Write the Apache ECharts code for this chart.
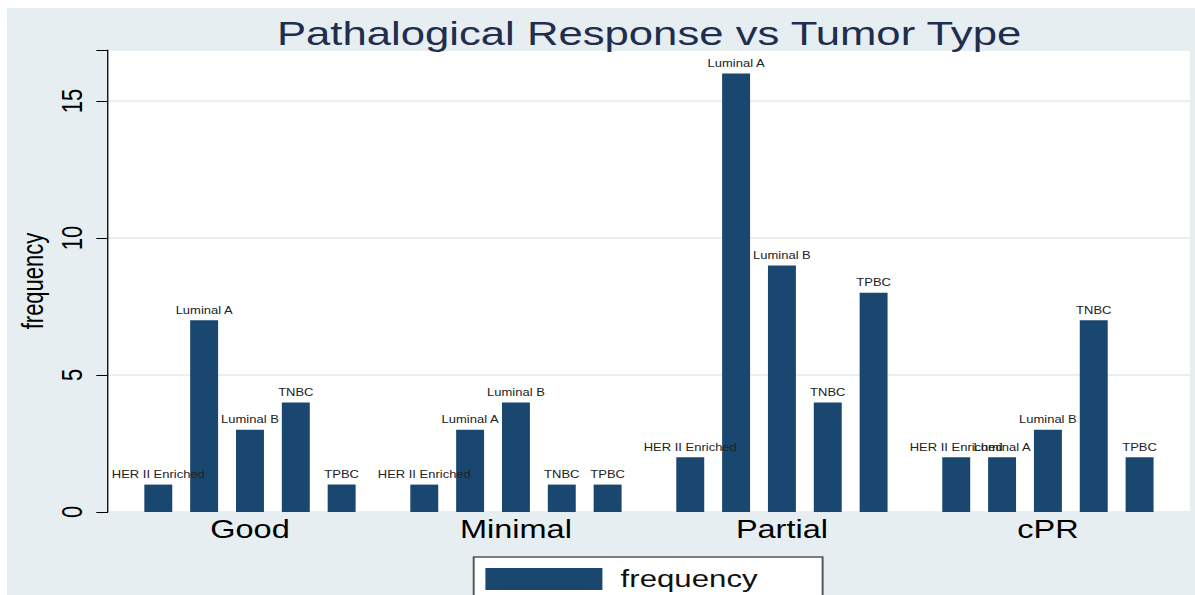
<!DOCTYPE html>
<html>
<head>
<meta charset="utf-8">
<title>Pathalogical Response vs Tumor Type</title>
<script src="https://cdn.jsdelivr.net/npm/echarts@6/dist/echarts.min.js"></script>
<style>
  html, body { margin: 0; padding: 0; background: #ffffff; }
  /* the original graph is stretched sideways, so draw narrow and scale it */
  #chart {
    position: absolute; left: 7px; top: 8px;
    width: 914px; height: 587px;
    transform: scaleX(1.3); transform-origin: 0 0;
  }
</style>
</head>
<body>
<div id="chart"></div>
<script>
  'use strict';

  // response groups on the x axis
  var groups = ['Good', 'Minimal', 'Partial', 'cPR'];
  // tumor types, one bar each inside a group
  var tumorTypes = ['HER II Enriched', 'Luminal A', 'Luminal B', 'TNBC', 'TPBC'];
  // frequency per group, one array per tumor type
  var herII = [1, 1, 2, 2];
  var luminalA = [7, 3, 16, 2];
  var luminalB = [3, 4, 9, 3];
  var tnbc = [4, 1, 4, 7];
  var tpbc = [1, 1, 8, 2];
  var yTicks = [0, 5, 10, 15];

  var typeValues = [herII, luminalA, luminalB, tnbc, tpbc];
  var yMax = 16.86;
  var font = '"Liberation Sans", Arial, Helvetica, sans-serif';
  var barColor = '#1a476f';

  var chart = echarts.init(document.getElementById('chart'), null, {renderer: 'svg'});

  var series = tumorTypes.map(function (name, i){
    return {
      name: 'frequency',
      type: 'bar',
      xAxisIndex: 1,
      yAxisIndex: 1,
      barWidth: 21.5,
      barGap: '64%',
      itemStyle: {color: barColor},
      label: {
        show: true,
        position: 'top',
        distance: 5,
        formatter: name,
        fontFamily: font,
        fontSize: 10,
        color: '#222222'
      },
      data: typeValues[i]
    };
  });

  var option = {
    backgroundColor: '#e6eef1',
    animation: false,
    title: {
      text: 'Pathalogical Response vs Tumor Type',
      left: 202.6,
      top: 3,
      textStyle: {fontFamily: font, fontSize: 33.6, fontWeight: 'normal', color: '#1f2d4e'}
    },
    legend: {
      data: ['frequency'],
      left: 359,
      top: 549,
      orient: 'horizontal',
      itemWidth: 90,
      itemHeight: 22,
      icon: 'rect',
      padding: [10, 50, 20, 9],
      backgroundColor: '#ffffff',
      borderColor: '#555555',
      borderWidth: 1.5,
      borderRadius: 0,
      selectedMode: false,
      textStyle: {fontFamily: font, fontSize: 24, color: '#111111', padding: [0, 0, 0, 9]}
    },
    grid: [
      {
        // white plot region with the y axis
        left: 77.7, right: 4, top: 42, bottom: 83,
        show: true, backgroundColor: '#ffffff', borderWidth: 0
      },
      {
        // inner region where the groups sit
        left: 84.6, right: 11, top: 42, bottom: 83
      }
    ],
    xAxis: [
      {gridIndex: 0, type: 'value', show: false},
      {
        gridIndex: 1,
        type: 'category',
        data: groups,
        axisLine: {show: false},
        axisTick: {show: false},
        axisLabel: {margin: 5, fontFamily: font, fontSize: 25, color: '#000000'}
      }
    ],
    yAxis: [
      {
        gridIndex: 0,
        type: 'value',
        min: yTicks[0],
        max: yMax,
        interval: yTicks[1] - yTicks[0],
        name: 'frequency',
        nameLocation: 'middle',
        nameRotate: 90,
        nameGap: 40,
        nameTextStyle: {fontFamily: font, fontSize: 22, color: '#000000'},
        axisLine: {show: true, lineStyle: {color: '#000000', width: 1}},
        axisTick: {show: true, inside: false, length: 9, lineStyle: {color: '#000000'}},
        axisLabel: {
          rotate: 90,
          margin: 17,
          fontFamily: font,
          fontSize: 22,
          color: '#000000',
          formatter: function (v){
            return yTicks.indexOf(v) >= 0 ? String(v) : '';
          }
        },
        splitLine: {show: true, lineStyle: {color: '#e3ebee', width: 1.5}}
      },
      {gridIndex: 1, type: 'value', min: yTicks[0], max: yMax, show: false, splitLine: {show: false}}
    ],
    series: series
  };

  chart.setOption(option);
</script>
</body>
</html>
